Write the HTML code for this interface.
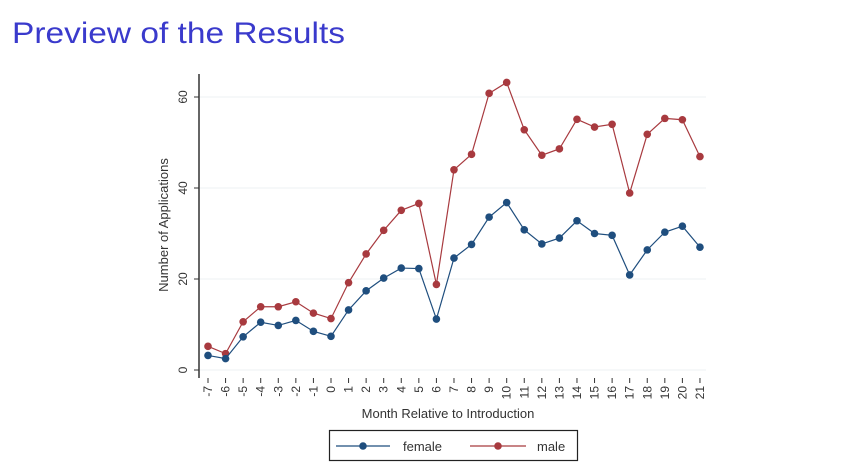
<!DOCTYPE html>
<html><head><meta charset="utf-8"><style>
body{margin:0;background:#fff;width:865px;height:464px;overflow:hidden}
</style></head><body>
<svg id="s" width="865" height="464" xmlns="http://www.w3.org/2000/svg" font-family="Liberation Sans, Arial, sans-serif">
<text x="12" y="43" font-size="30" fill="#3a3acc" textLength="333" lengthAdjust="spacingAndGlyphs">Preview of the Results</text>
</svg>
<script>
const s=document.getElementById('s');
const f=[3.2,2.5,7.3,10.5,9.8,10.9,8.5,7.4,13.2,17.4,20.2,22.4,22.3,11.2,24.6,27.6,33.6,36.8,30.8,27.7,29,32.8,30,29.6,20.9,26.4,30.3,31.6,27];
const m=[5.2,3.6,10.6,13.9,13.9,15,12.5,11.3,19.2,25.5,30.7,35.1,36.6,18.8,44,47.4,60.8,63.2,52.8,47.2,48.6,55.1,53.4,54,38.9,51.8,55.3,55,46.9];
const X=i=>208+i*17.57, Y=v=>370-v*4.55;
let h='';
[0,20,40,60].forEach(v=>{h+=`<line x1="200" x2="706" y1="${Y(v)}" y2="${Y(v)}" stroke="#eef0f3" stroke-width="1"/>`;
h+=`<line x1="194" x2="199" y1="${Y(v)}" y2="${Y(v)}" stroke="#333"/>`;
h+=`<text transform="translate(187,${Y(v)}) rotate(-90)" text-anchor="middle" font-size="12" fill="#333">${v}</text>`;});
h+=`<line x1="199" x2="199" y1="74" y2="378" stroke="#333" stroke-width="1.5"/>`;
for(let i=0;i<29;i++){const x=X(i);h+=`<line x1="${x}" x2="${x}" y1="378" y2="383" stroke="#333"/>`;
h+=`<text transform="translate(${x+4},386) rotate(-90)" text-anchor="end" font-size="12" fill="#333">${i-7}</text>`;}
h+=`<text transform="translate(168,225) rotate(-90)" text-anchor="middle" font-size="13" fill="#333">Number of Applications</text>`;
h+=`<text x="448" y="418" text-anchor="middle" font-size="13" fill="#333">Month Relative to Introduction</text>`;
[[m,'#a83a3f'],[f,'#1f4e7e']].forEach(([d,c])=>{h+=`<polyline fill="none" stroke="${c}" stroke-width="1.2" points="${d.map((v,i)=>X(i)+','+Y(v)).join(' ')}"/>`;
d.forEach((v,i)=>h+=`<circle cx="${X(i)}" cy="${Y(v)}" r="3.8" fill="${c}"/>`);});
h+=`<rect x="329.5" y="430.5" width="248" height="30" fill="none" stroke="#222" stroke-width="1.2"/>`;
h+=`<line x1="336" x2="390" y1="446" y2="446" stroke="#1f4e7e" stroke-width="1.2"/><circle cx="363" cy="446" r="3.8" fill="#1f4e7e"/>`;
h+=`<text x="403" y="451" font-size="13" fill="#333">female</text>`;
h+=`<line x1="470" x2="526" y1="446" y2="446" stroke="#a83a3f" stroke-width="1.2"/><circle cx="498" cy="446" r="3.8" fill="#a83a3f"/>`;
h+=`<text x="537" y="451" font-size="13" fill="#333">male</text>`;
s.insertAdjacentHTML('beforeend',h);
</script>
</body></html>
